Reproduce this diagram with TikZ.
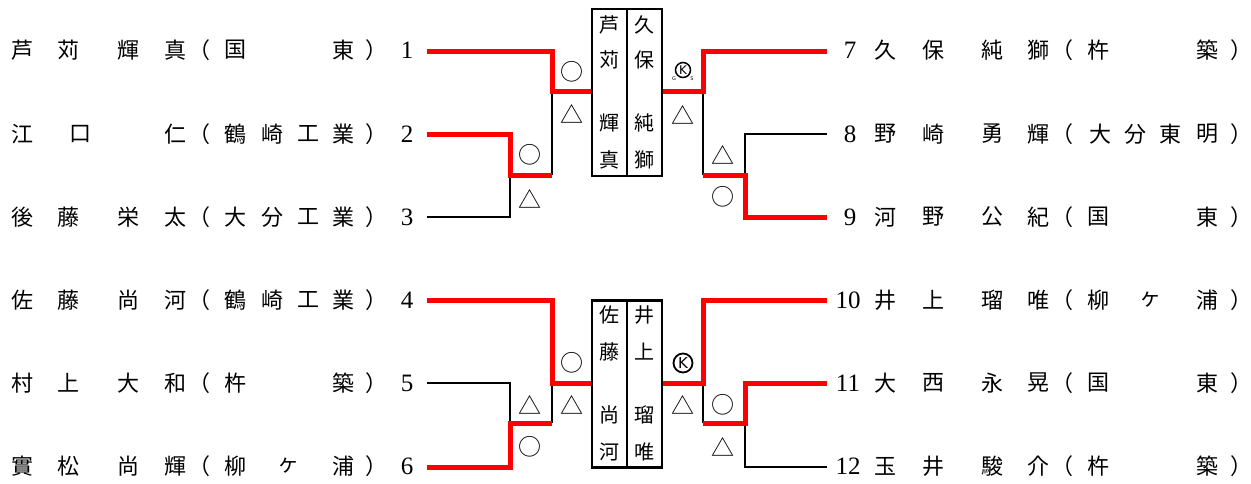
\documentclass[tikz,border=0pt]{standalone}
\usepackage{fontspec}
\setmainfont{Liberation Serif}
\newfontfamily\jp{Noto Sans CJK JP}
\newfontfamily\dv{DejaVu Sans}
\tikzset{
  nm/.style={font=\jp\fontsize{22}{22}\selectfont, inner sep=0pt, anchor=center},
  num/.style={font=\fontsize{25}{25}\selectfont, inner sep=0pt, anchor=center},
  boxch/.style={font=\jp\fontsize{20}{20}\selectfont, inner sep=0pt, anchor=center},
  res/.style={font=\jp\fontsize{23}{23}\selectfont, inner sep=0pt, anchor=center},
  kres/.style={circle, draw=black, line width=1.8pt, minimum size=19pt, inner sep=0pt, anchor=center, font=\dv\fontsize{15}{15}\selectfont},
  kressmall/.style={kres, minimum size=15pt, line width=1.5pt, font=\dv\fontsize{12}{12}\selectfont},
  tiny/.style={font=\dv\fontsize{5}{5}\selectfont, inner sep=0pt, anchor=center},
  win/.style={draw=red, line width=5pt},
  lose/.style={draw=black, line width=2.8pt},
  matchbox/.style={draw=black, line width=2.8pt, minimum width=70pt, minimum height=167pt, inner sep=0pt},
}
\newcommand\placerow[3]{%
  \foreach \xx/\cc [count=\k] in {#3} {\node[nm] (#1-\k) at (\xx,#2) {\cc};}%
}
\begin{document}
\begin{tikzpicture}[x=1pt,y=-1pt]
\useasboundingbox (0,0) rectangle (1251,483);
% ---------- left labels ----------
\placerow{L1}{50}{22/芦,68/苅,128/輝,175/真,199/（,235/国,343/東,376/）}
\placerow{L2}{134}{22/江,80/口,175/仁,199/（,235/鶴,272/崎,308/工,343/業,376/）}
\placerow{L3}{217}{22/後,68/藤,128/栄,175/太,199/（,235/大,272/分,308/工,343/業,376/）}
\placerow{L4}{300}{22/佐,68/藤,128/尚,175/河,199/（,235/鶴,272/崎,308/工,343/業,376/）}
\placerow{L5}{383}{22/村,68/上,128/大,175/和,199/（,235/杵,343/築,376/）}
\placerow{L6}{466}{22/實,68/松,128/尚,175/輝,199/（,235/柳,288/ヶ,343/浦,376/）}
\node[num] (n1) at (407,50) {1};
\node[num] (n2) at (407,134) {2};
\node[num] (n3) at (407,217) {3};
\node[num] (n4) at (407,300) {4};
\node[num] (n5) at (407,383) {5};
\node[num] (n6) at (407,466) {6};
% ---------- right labels ----------
\node[num] (n7) at (850,50) {7};
\node[num] (n8) at (850,134) {8};
\node[num] (n9) at (850,217) {9};
\node[num] (n10) at (848,300) {10};
\node[num] (n11) at (848,383) {11};
\node[num] (n12) at (848,466) {12};
\placerow{R7}{50}{885/久,933/保,992/純,1038/獅,1062/（,1098/杵,1207/築,1241/）}
\placerow{R8}{134}{885/野,933/崎,992/勇,1038/輝,1062/（,1100/大,1135/分,1170/東,1207/明,1241/）}
\placerow{R9}{217}{885/河,933/野,992/公,1038/紀,1062/（,1098/国,1207/東,1241/）}
\placerow{R10}{300}{885/井,933/上,992/瑠,1038/唯,1062/（,1098/柳,1150/ヶ,1207/浦,1241/）}
\placerow{R11}{383}{885/大,933/西,992/永,1038/晃,1062/（,1098/国,1207/東,1241/）}
\placerow{R12}{466}{885/玉,933/井,992/駿,1038/介,1062/（,1098/杵,1207/築,1241/）}
% ---------- match boxes ----------
\node[matchbox] (B1) at (627,92.5) {};
\draw[line width=2.8pt] (B1.north) -- (B1.south);
\node[boxch] (b1a) at (609.5,25) {芦};
\node[boxch] (b1b) at (609.5,60) {苅};
\node[boxch] (b1c) at (609.5,123) {輝};
\node[boxch] (b1d) at (609.5,160) {真};
\node[boxch] (b1e) at (644.5,25) {久};
\node[boxch] (b1f) at (644.5,60) {保};
\node[boxch] (b1g) at (644.5,123) {純};
\node[boxch] (b1h) at (644.5,160) {獅};
\node[matchbox] (B2) at (627,384) {};
\draw[line width=2.8pt] (B2.north) -- (B2.south);
\node[boxch] (b2a) at (609.5,315) {佐};
\node[boxch] (b2b) at (609.5,352) {藤};
\node[boxch] (b2c) at (609.5,415) {尚};
\node[boxch] (b2d) at (609.5,452) {河};
\node[boxch] (b2e) at (644.5,315) {井};
\node[boxch] (b2f) at (644.5,352) {上};
\node[boxch] (b2g) at (644.5,415) {瑠};
\node[boxch] (b2h) at (644.5,452) {唯};
% ---------- coordinates ----------
\coordinate (a1) at (427,51);  \coordinate (a2) at (427,134); \coordinate (a3) at (427,217);
\coordinate (a4) at (427,300); \coordinate (a5) at (427,383); \coordinate (a6) at (427,467);
\coordinate (r7) at (827,51);  \coordinate (r8) at (827,134); \coordinate (r9) at (827,217);
\coordinate (r10) at (827,300); \coordinate (r11) at (827,383); \coordinate (r12) at (827,467);
\coordinate (t1) at (552,91);  \coordinate (j1) at (510,175); \coordinate (k1) at (552,175);
\coordinate (t2) at (703,91);  \coordinate (k2) at (703,175); \coordinate (j2) at (745,175);
\coordinate (t3) at (552,383); \coordinate (j3) at (510,423); \coordinate (k3) at (552,423);
\coordinate (t4) at (703,383); \coordinate (k4) at (703,423); \coordinate (j4) at (745,423);
% ---------- black (losing) lines ----------
\draw[lose] (a3) -| (j1);
\draw[lose] (k1) -- (t1);
\draw[lose] (t2) -- (k2);
\draw[lose] (j2) |- (r8);
\draw[lose] (a5) -| (j3);
\draw[lose] (k3) -- (t3);
\draw[lose] (t4) -- (k4);
\draw[lose] (j4) |- (r12);
% ---------- red (winning) lines ----------
\draw[win] (a1) -| (t1) -- (t1 -| B1.west);
\draw[win] (a2) -| (j1) -- (k1);
\draw[win] (B1.east |- t2) -- (t2) |- (r7);
\draw[win] (k2) -- (j2) |- (r9);
\draw[win] (a4) -| (t3) -- (t3 -| B2.west);
\draw[win] (a6) -| (j3) -- (k3);
\draw[win] (B2.east |- t4) -- (t4) |- (r10);
\draw[win] (k4) -- (j4) |- (r11);
% ---------- results ----------
\node[res] (m1) at (572,72) {○};
\node[res] (m2) at (572,114) {△};
\node[res] (m3) at (530,155) {○};
\node[res] (m4) at (530,199) {△};
\node[kressmall] (m5) at (683,70) {K};
\node[tiny] (m5g) at (674,79) {G};
\node[tiny] (m5s) at (692,79) {S};
\node[res] (m6) at (683,115) {△};
\node[res] (m7) at (723,155) {△};
\node[res] (m8) at (723,197) {○};
\node[res] (m9) at (530,405) {△};
\node[res] (m10) at (530,447) {○};
\node[res] (m11) at (572,363) {○};
\node[res] (m12) at (572,405) {△};
\node[kres] (m13) at (683,363) {K};
\node[res] (m14) at (683,405) {△};
\node[res] (m15) at (723,405) {○};
\node[res] (m16) at (723,447) {△};
\end{tikzpicture}
\end{document}
